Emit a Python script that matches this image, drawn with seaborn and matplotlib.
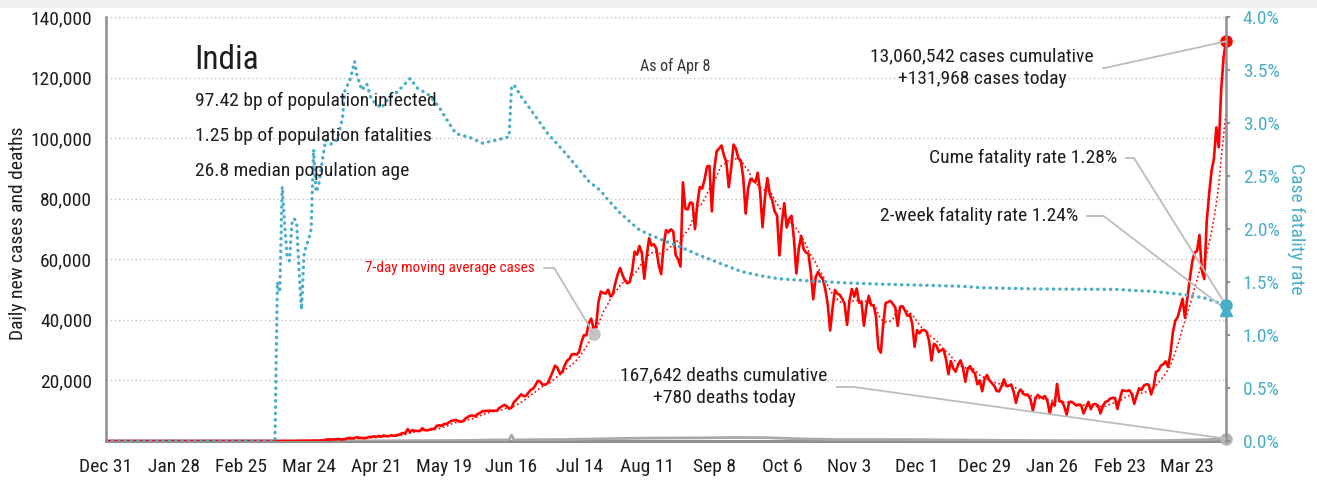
import matplotlib
matplotlib.use("Agg")
import matplotlib.pyplot as plt
import matplotlib.dates as mdates
from matplotlib.patches import Rectangle
from matplotlib import font_manager
import numpy as np
import pandas as pd
import seaborn as sns

# ---------------------------------------------------------------- data
series_start = "2019-12-31"
last_day = "2021-04-08"
first_report = "2020-03-02"          # first day of the daily list below (a Monday)

# Daily new confirmed cases, one row per week (Mon..Sun)
daily_cases = [
    2, 1, 23, 1, 2, 3, 5,
    9, 15, 12, 11, 8, 21, 27,
    13, 24, 22, 48, 66, 90, 73,
    102, 75, 90, 149, 134, 118, 209,
    145, 437, 538, 478, 528, 560, 678,
    569, 508, 637, 896, 1038, 797, 1035,
    1244, 1012, 1034, 906, 1076, 1295, 1336,
    1540, 1322, 1667, 1408, 1835, 1607, 1561,
    1873, 1738, 1801, 1993, 2293, 2644, 2573,
    3932, 2963, 3587, 3364, 3320, 3277, 4213,
    3604, 3524, 3722, 3967, 3970, 4987, 5242,
    4970, 5611, 5609, 6088, 6654, 6767, 6977,
    6535, 6387, 6566, 7466, 7964, 8380, 8392,
    8171, 8909, 9304, 9851, 9887, 9971, 9983,
    9987, 9985, 9996, 10956, 11458, 11929, 11502,
    10667, 10974, 12881, 13586, 14516, 15413, 14821,
    14933, 15968, 16922, 17296, 18552, 19906, 19459,
    18522, 18653, 19148, 20903, 22771, 24850, 24248,
    22252, 22752, 24879, 26506, 27114, 28637, 28701,
    28498, 29429, 32695, 34956, 34884, 38902, 40425,
    37148, 37724, 45720, 49310, 48916, 48661, 49931,
    47704, 48513, 52123, 55079, 57118, 54735, 52972,
    52050, 52509, 56282, 62538, 61537, 64399, 62064,
    53601, 60963, 66999, 64553, 65002, 63490, 57981,
    55079, 64531, 69652, 68898, 69878, 69239, 61408,
    60000, 57600, 85400, 76700, 76472, 78761, 78512,
    69921, 78357, 83883, 83341, 86432, 90632, 90802,
    75809, 89706, 95735, 96551, 97570, 94372, 92071,
    83809, 90123, 97894, 96424, 93337, 92605, 86961,
    75083, 83347, 86508, 86052, 85362, 88600, 82170,
    70589, 80472, 86821, 81484, 79476, 75829, 74442,
    61267, 72049, 78524, 70496, 73272, 74383, 66732,
    55342, 63509, 67708, 63371, 62212, 61871, 55722,
    46790, 54044, 55839, 54366, 53370, 50129, 45148,
    36470, 43893, 49881, 48648, 48268, 46963, 45231,
    38310, 46253, 50209, 47638, 50357, 45674, 45903,
    38074, 44281, 47905, 44879, 44878, 41100, 30548,
    29163, 38617, 45576, 45882, 46232, 45209, 44059,
    37975, 44376, 44489, 43082, 41322, 41810, 38772,
    31118, 36604, 35551, 36595, 36652, 36011, 32981,
    26567, 32080, 31521, 29398, 30006, 30254, 27071,
    22065, 26382, 24010, 22890, 25152, 26624, 24337,
    19556, 23950, 24712, 23068, 22273, 18732, 20021,
    16432, 20550, 21822, 20035, 19078, 18177, 16504,
    16375, 18088, 20346, 18139, 18222, 18645, 16311,
    12584, 15968, 16946, 15590, 15158, 15144, 13788,
    10064, 13823, 15223, 14545, 14256, 14849, 13203,
    9102, 12689, 11666, 18855, 13083, 13052, 11427,
    8635, 12899, 12923, 12408, 11713, 12059, 11831,
    9110, 11067, 12923, 10500, 12143, 12194, 11649,
    9121, 11610, 12881, 13193, 13993, 14264, 14199,
    10584, 13742, 16738, 16577, 16488, 16752, 15510,
    12286, 14989, 17407, 16838, 18327, 18711, 18599,
    15388, 17921, 22854, 23285, 24882, 25320, 26291,
    24492, 28903, 35871, 39726, 40953, 43846, 46951,
    40715, 47262, 53476, 59118, 62258, 62714, 68020,
    56211, 53480, 72330, 81466, 89129, 93249, 103558,
    96982, 115736, 126789, 131968,
]

# Daily new deaths (reported totals on selected days)
death_dates = [
    "2019-12-31", "2020-03-11", "2020-03-25", "2020-04-08", "2020-04-22",
    "2020-05-06", "2020-05-20", "2020-06-03", "2020-06-10", "2020-06-15",
    "2020-06-16", "2020-06-17", "2020-06-24", "2020-07-08", "2020-07-22",
    "2020-08-05", "2020-08-19", "2020-09-02", "2020-09-16", "2020-09-30",
    "2020-10-14", "2020-10-28", "2020-11-11", "2020-11-25", "2020-12-09",
    "2020-12-23", "2021-01-06", "2021-01-20", "2021-02-03", "2021-02-17",
    "2021-03-03", "2021-03-17", "2021-03-31", "2021-04-07", "2021-04-08",
]
daily_deaths = [
    0, 0, 3, 30, 45,
    100, 140, 260, 350, 340,
    2003, 340, 420, 480, 700,
    900, 1000, 1050, 1150, 1100,
    700, 500, 500, 480, 400,
    300, 220, 150, 110, 100,
    100, 190, 450, 630, 780,
]

# Cumulative case fatality rate, percent
cfr_dates = [
    "2019-12-31", "2020-03-10", "2020-03-11", "2020-03-12", "2020-03-13",
    "2020-03-14", "2020-03-15", "2020-03-16", "2020-03-17", "2020-03-18",
    "2020-03-19", "2020-03-20", "2020-03-21", "2020-03-22", "2020-03-23",
    "2020-03-24", "2020-03-25", "2020-03-26", "2020-03-27", "2020-03-28",
    "2020-03-29", "2020-03-30", "2020-03-31", "2020-04-02", "2020-04-04",
    "2020-04-05", "2020-04-07", "2020-04-08", "2020-04-10", "2020-04-12",
    "2020-04-13", "2020-04-15", "2020-04-17", "2020-04-19", "2020-04-23",
    "2020-04-26", "2020-04-30", "2020-05-05", "2020-05-08", "2020-05-13",
    "2020-05-17", "2020-05-21", "2020-05-24", "2020-05-30", "2020-06-04",
    "2020-06-10", "2020-06-15", "2020-06-16", "2020-06-17", "2020-06-20",
    "2020-06-26", "2020-07-01", "2020-07-07", "2020-07-13", "2020-07-18",
    "2020-07-23", "2020-07-25", "2020-07-31", "2020-08-08", "2020-08-16",
    "2020-08-25", "2020-09-02", "2020-09-10", "2020-09-19", "2020-09-27",
    "2020-10-05", "2020-10-18", "2020-11-03", "2020-11-16", "2020-12-19",
    "2020-12-28", "2021-01-21", "2021-02-22", "2021-03-09", "2021-03-22",
    "2021-03-30", "2021-04-08",
]
cfr_pct = [
    0.0, 0.0, 1.50, 1.40, 2.40,
    2.05, 1.75, 1.70, 2.05, 2.10,
    2.05, 1.60, 1.24, 1.75, 1.85,
    1.90, 2.00, 2.75, 2.35, 2.40,
    2.55, 2.70, 2.84, 2.80, 2.82,
    2.86, 3.05, 3.31, 3.40, 3.58,
    3.45, 3.31, 3.37, 3.22, 3.14,
    3.23, 3.30, 3.42, 3.33, 3.26,
    3.15, 3.00, 2.90, 2.86, 2.81,
    2.84, 2.87, 3.34, 3.36, 3.25,
    3.06, 2.90, 2.75, 2.59, 2.45,
    2.36, 2.30, 2.15, 1.99, 1.91,
    1.83, 1.75, 1.68, 1.60, 1.56,
    1.53, 1.51, 1.49, 1.48, 1.46,
    1.446, 1.434, 1.43, 1.41, 1.38,
    1.35, 1.28,
]

two_week_cfr = 1.24
cum_cases = 13060542
cum_deaths = 167642
pop_infected_bp = 97.42
pop_fatal_bp = 1.25
median_age = 26.8
ma_note_day = "2020-07-20"

x_tick_days = pd.date_range("2019-12-31", "2021-03-23", freq="28D")
case_ticks = list(range(0, 140001, 20000))
cfr_ticks = [0.0, 0.5, 1.0, 1.5, 2.0, 2.5, 3.0, 3.5, 4.0]

# ---------------------------------------------------------------- frames
report_days = pd.date_range(first_report, periods=len(daily_cases), freq="D")
all_days = pd.date_range(series_start, last_day, freq="D")
cases = pd.Series(daily_cases, index=report_days, dtype=float).reindex(all_days, fill_value=0.0)
cases_df = pd.DataFrame({"date": all_days, "cases": cases.values,
                         "ma7": cases.rolling(7, min_periods=1).mean().values})
deaths_df = pd.DataFrame({"date": pd.to_datetime(death_dates), "deaths": daily_deaths})
cfr_df = pd.DataFrame({"date": pd.to_datetime(cfr_dates), "cfr": cfr_pct})

# ---------------------------------------------------------------- style
sns.set_theme(style="white")
_have = {f.name for f in font_manager.fontManager.ttflist}
_face = next((f for f in ["Roboto Condensed", "Archivo Narrow", "PT Sans Narrow",
                          "Liberation Sans Narrow", "DejaVu Sans"] if f in _have), "DejaVu Sans")
plt.rcParams["font.family"] = [_face, "DejaVu Sans"]

RED = "#ff0000"
TEAL = "#4aaec8"
GREY_LINE = "#a8a8a8"
AXIS = "#8f8f8f"
LEADER = "#bdbdbd"
INK = "#1e1e1e"
W, H = 1317, 480

fig = plt.figure(figsize=(W / 100, H / 100), dpi=100)
fig.patches.append(Rectangle((0, 1 - 8 / H), 1, 8 / H, transform=fig.transFigure,
                             facecolor="#efefef", edgecolor="none", zorder=0))
ax = fig.add_axes([106 / W, 39 / H, 1120 / W, 424 / H])
ax2 = ax.twinx()

# ---------------------------------------------------------------- marks
sns.lineplot(data=deaths_df, x="date", y="deaths", ax=ax, color=GREY_LINE, lw=2.0, zorder=3)
sns.lineplot(data=cases_df, x="date", y="cases", ax=ax, color=RED, lw=1.9, zorder=4)
sns.lineplot(data=cases_df, x="date", y="ma7", ax=ax, color=RED, lw=1.2,
             linestyle=(0, (1, 1.6)), zorder=5)
sns.lineplot(data=cfr_df, x="date", y="cfr", ax=ax2, color=TEAL, lw=2.4,
             linestyle=(0, (0.1, 1.8)), dash_capstyle="round", zorder=3)

end = pd.Timestamp(last_day)
ma_day = pd.Timestamp(ma_note_day)
ma_val = cases_df.set_index("date").loc[ma_day, "ma7"]
ax.plot([end], [daily_cases[-1]], "o", color=RED, ms=8, clip_on=False, zorder=6)
ax.plot([end], [daily_deaths[-1]], "o", color="#b4b4b4", ms=8, clip_on=False, zorder=6)
ax.plot([ma_day], [ma_val], "o", color="#c4c4c4", ms=8, zorder=6)
ax2.plot([end], [cfr_pct[-1]], "o", color=TEAL, ms=8, clip_on=False, zorder=6)
ax2.plot([end], [two_week_cfr], "^", color=TEAL, ms=9, clip_on=False, zorder=6)

# ---------------------------------------------------------------- axes
ax.set_xlim(pd.Timestamp(series_start), end)
ax.set_ylim(0, 140000)
ax2.set_ylim(0, 4.0)

ax.set_xticks(x_tick_days)
ax.set_xticklabels([f"{d:%b} {d.day}" for d in x_tick_days])
ax.set_yticks(case_ticks)
ax.set_yticklabels(["" if v == 0 else f"{v:,}" for v in case_ticks])
ax2.set_yticks(cfr_ticks)
ax2.set_yticklabels([f"{v:.1f}%" for v in cfr_ticks])

ax.yaxis.grid(True, color="#c2c2c2", linestyle=(0, (1, 2)), lw=1.0)
ax.xaxis.grid(False)
ax2.grid(False)
ax.set_axisbelow(True)

for a in (ax, ax2):
    for s in a.spines.values():
        s.set_visible(False)
ax.spines["left"].set_visible(True)
ax.spines["left"].set_color(AXIS)
ax.spines["left"].set_linewidth(1.8)
ax.spines["bottom"].set_visible(True)
ax.spines["bottom"].set_color(AXIS)
ax.spines["bottom"].set_linewidth(2.2)
ax2.spines["right"].set_visible(True)
ax2.spines["right"].set_color(AXIS)
ax2.spines["right"].set_linewidth(1.8)

ax.tick_params(axis="x", length=6, width=1.5, color=AXIS, labelsize=14,
               labelcolor=INK, pad=6, direction="out")
ax.tick_params(axis="y", length=0, labelsize=14, labelcolor=INK, pad=10)
ax2.tick_params(axis="y", length=3, width=1.5, color=AXIS, labelsize=14,
                labelcolor=TEAL, pad=9)

ax.set_xlabel("")
ax.set_ylabel("Daily new cases and deaths", fontsize=14, color=INK)
ax.yaxis.set_label_coords((27 - 106) / 1120, 0.49)
ax2.set_ylabel("Case fatality rate", fontsize=14, color=TEAL, rotation=270, va="center")
ax2.yaxis.set_label_coords((1296 - 106) / 1120, 0.5)

# ---------------------------------------------------------------- texts
def fxy(px, py):
    return (px / W, 1 - py / H)

fig.text(*fxy(194, 60), "India", fontsize=24, color=INK, va="center", ha="left")
fig.text(*fxy(195, 101), f"{pop_infected_bp:.2f} bp of population infected",
         fontsize=14, color=INK, va="center", ha="left")
fig.text(*fxy(195, 136), f"{pop_fatal_bp:.2f} bp of population fatalities",
         fontsize=14, color=INK, va="center", ha="left")
fig.text(*fxy(195, 171), f"{median_age:.1f} median population age",
         fontsize=14, color=INK, va="center", ha="left")
fig.text(*fxy(675, 66), f"As of {end:%b} {end.day}", fontsize=11.5, color="#333333",
         va="center", ha="center")


def note(text, xy, trans, at, ha, angle_b, color=INK, size=14):
    ax2.annotate(
        text, xy=xy, xycoords=trans, xytext=fxy(*at), textcoords="figure fraction",
        ha=ha, va="center", multialignment="center", fontsize=size, color=color,
        linespacing=1.35, annotation_clip=False,
        arrowprops=dict(arrowstyle="-", color=LEADER, lw=1.3, shrinkA=4, shrinkB=0,
                        relpos=(1, 0.5),
                        connectionstyle=f"angle,angleA=0,angleB={angle_b},rad=0"),
    )


endn = mdates.date2num(end)
note(f"{cum_cases:,} cases cumulative\n+{daily_cases[-1]:,} cases today",
     (endn, daily_cases[-1]), ax.transData, (982, 68), "center", 12.4)
note(f"Cume fatality rate {cfr_pct[-1]:.2f}%", (endn, cfr_pct[-1]), ax2.transData,
     (1117, 158), "right", -58)
note(f"2-week fatality rate {two_week_cfr:.2f}%", (endn, two_week_cfr), ax2.transData,
     (1078, 216), "right", -37.4)
note(f"{cum_deaths:,} deaths cumulative\n+{daily_deaths[-1]:,} deaths today",
     (endn, daily_deaths[-1]), ax.transData, (724, 387), "center", -7.9)
note("7-day moving average cases", (mdates.date2num(ma_day), ma_val), ax.transData,
     (535, 268), "right", -59, color=RED, size=11)

fig.savefig("out.png", dpi=100, facecolor="white")
